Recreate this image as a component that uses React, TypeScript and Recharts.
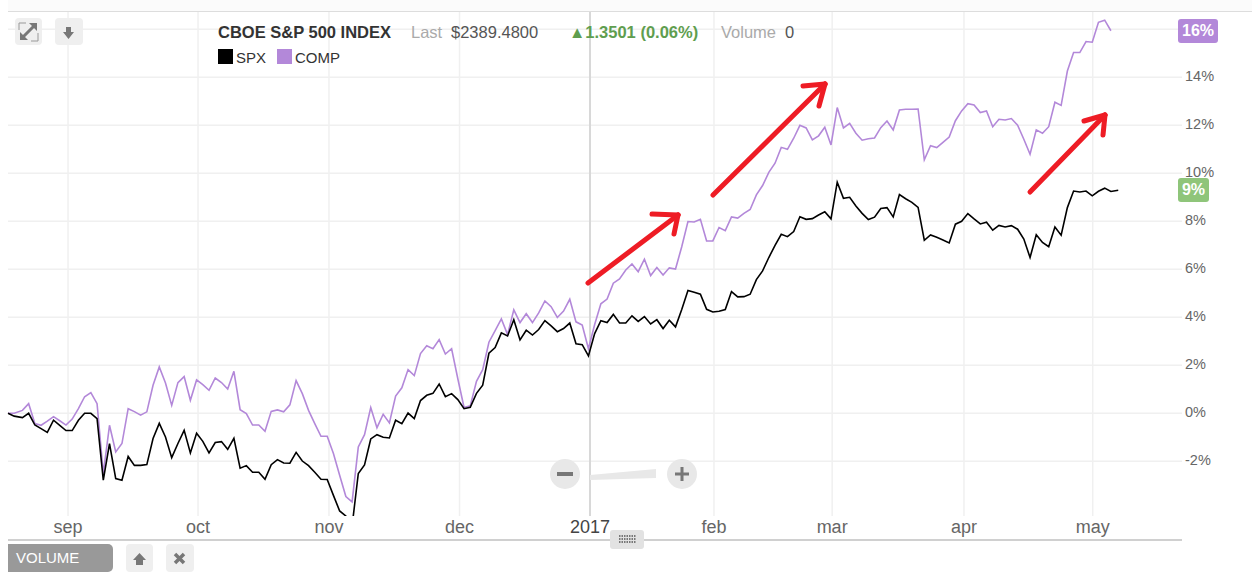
import { CartesianGrid, Line, LineChart, ReferenceLine, XAxis, YAxis } from 'recharts';

const spxValues = [
  0, -0.12, -0.18, 0, -0.49, -0.64, -0.8, -0.29, -0.5, -0.72,
  -0.72, -0.29, 0, 0, -0.22, -2.79, -1.26, -2.72, -2.79, -1.8,
  -2.17, -2.17, -2.14, -1.05, -0.42, -0.99, -1.85, -1.26, -0.71, -1.65,
  -0.83, -1.17, -1.65, -1.22, -1.18, -1.5, -1.04, -2.29, -2.18, -2.46,
  -2.46, -2.75, -2.14, -1.93, -2.07, -2.08, -1.63, -1.99, -2.18, -2.46,
  -2.75, -2.76, -3.42, -4.07, -4.28, -4.7, -2.51, -2.15, -1.07, -0.89,
  -1, -1.03, -0.29, -0.43, 0.01, -0.22, 0.53, 0.75, 0.83, 1.22,
  0.69, 0.82, 0.57, 0.19, 0.25, 0.83, 1.17, 2.5, 2.74, 3.35,
  3.22, 3.9, 3.06, 3.46, 3.26, 3.49, 3.86, 3.64, 3.4, 3.53,
  3.76, 2.9, 2.86, 2.39, 3.32, 3.86, 3.78, 4.12, 3.76, 3.76,
  4.06, 3.83, 4.03, 3.72, 3.9, 3.53, 3.88, 3.6, 4.32, 5.12,
  5.04, 4.96, 4.33, 4.22, 4.25, 4.32, 5.07, 4.85, 4.86, 4.96,
  5.57, 5.93, 6.49, 7, 7.46, 7.36, 7.57, 8.19, 8.08, 8.11,
  8.26, 8.4, 8.1, 9.63, 8.96, 9, 8.64, 8.33, 8.07, 8.17,
  8.53, 8.57, 8.18, 9.11, 8.94, 8.79, 8.58, 7.21, 7.43, 7.33,
  7.22, 7.1, 7.88, 8, 8.32, 8.1, 7.89, 7.96, 7.63, 7.83,
  7.76, 7.82, 7.67, 7.26, 6.49, 7.44, 7.12, 6.94, 7.76, 7.42,
  8.57, 9.26, 9.22, 9.26, 9.06, 9.25, 9.38, 9.24, 9.29,
];

const compValues = [
  0, 0, 0.12, 0.4, -0.43, -0.5, -0.33, -0.14, -0.31, -0.49,
  -0.24, 0.19, 0.69, 0.86, 0.4, -2.51, -0.5, -1.61, -1.26, 0.19,
  0.07, -0.08, 0.06, 1.17, 1.93, 1.26, 0.33, 1.28, 1.53, 0.54,
  1.39, 1.19, 0.96, 1.47, 1.28, 1.01, 1.75, 0.15, -0.01, -0.49,
  -0.49, -0.75, 0.08, 0.14, 0.06, 0.35, 1.36, 0.82, 0.12, -0.43,
  -0.96, -0.96, -1.68, -2.58, -3.47, -3.69, -1.4, -0.89, 0.24, -0.6,
  -0.04, -0.4, 0.72, 1.06, 1.82, 1.57, 2.49, 2.81, 2.69, 3.07,
  2.47, 2.69, 1.44, 0.24, 0.31, 1.33, 1.82, 2.96, 3.44, 3.93,
  3.28, 4.31, 3.78, 4.15, 3.78, 4.18, 4.68, 4.44, 3.99, 4.26,
  4.75, 3.81, 3.68, 2.69, 3.7, 4.56, 4.76, 5.42, 5.6, 5.97,
  6.22, 5.9, 6.42, 5.74, 6.07, 5.76, 6.06, 6.01, 6.94, 7.99,
  7.97, 8.08, 7.18, 7.18, 7.74, 7.61, 8.18, 8.13, 8.33, 8.49,
  9.1, 9.49, 10.04, 10.42, 11.08, 11, 11.46, 12, 11.89, 11.39,
  11.56, 11.92, 11.18, 12.74, 11.89, 12.08, 11.67, 11.38, 11.44, 11.47,
  11.9, 12.18, 11.81, 12.64, 12.67, 12.67, 12.68, 10.56, 11.15, 11.07,
  11.29, 11.51, 12.19, 12.6, 12.9, 12.85, 12.53, 12.6, 11.94, 12.25,
  12.22, 12.28, 12, 11.42, 10.79, 11.81, 11.67, 11.94, 12.96, 12.83,
  14.26, 15.03, 15.03, 15.49, 15.46, 16.29, 16.38, 15.94, null,
];

// trading day position where each month starts
const monthTicks = [9.65, 30.55, 51.6, 72.6, 93.57, 113.5, 132.5, 153.7, 174.4];
const monthLabels = ['sep', 'oct', 'nov', 'dec', '2017', 'feb', 'mar', 'apr', 'may'];
const yearTick = 93.57;
const percentTicks = [-2, 0, 2, 4, 6, 8, 10, 12, 14, 16];

// the third session comes a little late and the last quote is still in progress
const chartData = spxValues.map((spx, i) => ({
  day: i + (i >= 2 ? 0.32 : 0) + (i === 178 ? 0.18 : 0),
  spx,
  comp: compValues[i],
}));

const PURPLE = '#b388d9';
const GREEN = '#8fc57a';
const FONT = '"Liberation Sans", Arial, sans-serif';

// hand drawn arrows on top of the chart: shaft, then the two head strokes
const arrows = [
  ['M588 283 L678 215', 'M652 214 L678 215', 'M674 234 L678 215'],
  ['M713 195 L825 84', 'M803 86 L825 84', 'M819 106 L825 84'],
  ['M1030 192 L1105 115', 'M1084 121 L1105 115', 'M1103 135 L1105 115'],
];

function MonthTick({ x, y, payload }: any) {
  const label = monthLabels[monthTicks.indexOf(payload.value)];
  return (
    <text
      x={x}
      y={y}
      dy={9}
      textAnchor="middle"
      fontFamily={FONT}
      fontSize={18}
      fill={label === '2017' ? '#444' : '#666'}
    >
      {label}
    </text>
  );
}

// the 16% row has its label in the badge instead
function PercentTick({ x, y, payload }: any) {
  if (payload.value === 16) return null;
  return (
    <text x={x} y={y} dx={-3} dy={4} textAnchor="start" fontFamily={FONT} fontSize={14.5} fill="#666">
      {`${payload.value}%`}
    </text>
  );
}

function Label({ x, y, children, style }: any) {
  return (
    <span style={{ position: 'absolute', left: x, top: y, whiteSpace: 'nowrap', fontSize: 16.5, lineHeight: '18px', ...style }}>
      {children}
    </span>
  );
}

function Badge({ x, y, width, color, children }: any) {
  return (
    <div
      style={{
        position: 'absolute',
        left: x,
        top: y,
        width,
        height: 24,
        borderRadius: 3,
        background: color,
        color: '#fff',
        fontSize: 16,
        fontWeight: 700,
        lineHeight: '24px',
        textAlign: 'center',
      }}
    >
      {children}
    </div>
  );
}

function Overlay() {
  return (
    <svg width={1252} height={588} style={{ position: 'absolute', left: 0, top: 0 }}>
      {/* top left buttons */}
      <rect x={15} y={18} width={27} height={27} rx={4} fill="#efefef" />
      <path d="M22 38 L35 25" stroke="#777" strokeWidth={3} />
      <path d="M29 23 H37 V31 Z M20 32 V40 H28 Z" fill="#777" />
      <path d="M19 30 V23 H26 M38 33 V41 H31" stroke="#999" strokeWidth={1} fill="none" />
      <rect x={55} y={18} width={28} height={27} rx={4} fill="#efefef" />
      <path d="M66 27 H71 V32 H74 L68.5 39 L63 32 H66 Z" fill="#777" />

      {/* zoom controls */}
      <circle cx={565} cy={474} r={15} fill="#e8e8e8" />
      <rect x={557} y={472} width={16} height={4} fill="#777" />
      <path d="M590 475 L656 469 V478 L590 480 Z" fill="#e8e8e8" />
      <circle cx={682} cy={474} r={15} fill="#e8e8e8" />
      <path d="M682 467 V481 M675 474 H689" stroke="#777" strokeWidth={3} />

      {/* rule under the axis, volume strip */}
      <rect x={8} y={539} width={1174} height={2} fill="#d0d0d0" />
      <rect x={610} y={530} width={34} height={19} rx={3} fill="#e2e2e2" />
      <path d="M619 536 H636 M619 539 H636 M619 542 H636" stroke="#555" strokeWidth={1.5} strokeDasharray="1.5 1" />
      <path d="M8 544 H108 a5 5 0 0 1 5 5 V567 a5 5 0 0 1 -5 5 H8 Z" fill="#999" />
      <rect x={126} y={544} width={27} height={28} rx={4} fill="#efefef" />
      <path d="M139.5 553 L146 560 H143 V565 H136 V560 H133 Z" fill="#777" />
      <rect x={166} y={544} width={28} height={28} rx={4} fill="#efefef" />
      <path d="M175 554 L184 563 M184 554 L175 563" stroke="#777" strokeWidth={3.5} />

      {/* legend swatches */}
      <rect x={218} y={49} width={15} height={15} fill="#000" />
      <rect x={277} y={49} width={15} height={15} fill={PURPLE} />

      {arrows.map((strokes, i) => (
        <g key={i}>
          {strokes.map((d) => (
            <path key={d} d={d} stroke="#ee1c25" strokeWidth={5} strokeLinecap="round" fill="none" />
          ))}
        </g>
      ))}
    </svg>
  );
}

export default function App() {
  return (
    <div
      style={{
        position: 'absolute',
        left: 0,
        top: 0,
        width: 1252,
        height: 588,
        overflow: 'hidden',
        background: '#fff',
        fontFamily: FONT,
      }}
    >
      <div style={{ position: 'absolute', left: 8, top: 0, width: 1244, height: 11, background: '#fbfbfb' }} />
      <div style={{ position: 'absolute', left: 8, top: 11, width: 1244, height: 1, background: '#ddd' }} />
      <LineChart
        width={1252}
        height={588}
        data={chartData}
        margin={{ top: 12, right: 0, bottom: 42, left: 8 }}
        style={{ position: 'absolute', left: 0, top: 0 }}
      >
        <CartesianGrid stroke="#f0f0f0" strokeWidth={1.5} syncWithTicks />
        <XAxis
          dataKey="day"
          type="number"
          domain={[0, 188.75]}
          ticks={monthTicks}
          interval={0}
          height={30}
          axisLine={false}
          tickLine={false}
          tick={<MonthTick />}
        />
        <YAxis
          orientation="right"
          type="number"
          domain={[-4.28, 16.72]}
          ticks={percentTicks}
          interval={0}
          allowDataOverflow
          width={70}
          axisLine={false}
          tickLine={false}
          tickMargin={0}
          tick={<PercentTick />}
        />
        <ReferenceLine x={yearTick} stroke="#d8d8d8" strokeWidth={2} />
        <Line dataKey="comp" stroke={PURPLE} strokeWidth={1.6} dot={false} isAnimationActive={false} />
        <Line dataKey="spx" stroke="#000" strokeWidth={1.6} dot={false} isAnimationActive={false} />
      </LineChart>
      <Overlay />

      <Label x={218} y={23} style={{ fontWeight: 700, color: '#333' }}>CBOE S&amp;P 500 INDEX</Label>
      <Label x={411} y={23} style={{ color: '#aaa' }}>Last</Label>
      <Label x={451} y={23} style={{ color: '#555' }}>$2389.4800</Label>
      <Label x={569} y={23} style={{ color: '#5f9e4f', fontWeight: 700 }}>▲1.3501 (0.06%)</Label>
      <Label x={721} y={23} style={{ color: '#aaa' }}>Volume</Label>
      <Label x={785} y={23} style={{ color: '#555' }}>0</Label>
      <Label x={236} y={49} style={{ color: '#333', fontSize: 15 }}>SPX</Label>
      <Label x={295} y={49} style={{ color: '#333', fontSize: 15 }}>COMP</Label>
      <Label x={16} y={549} style={{ color: '#fff', fontSize: 15 }}>VOLUME</Label>

      <Badge x={1178} y={19} width={40} color={PURPLE}>16%</Badge>
      <Badge x={1178} y={178} width={31} color={GREEN}>9%</Badge>
    </div>
  );
}
